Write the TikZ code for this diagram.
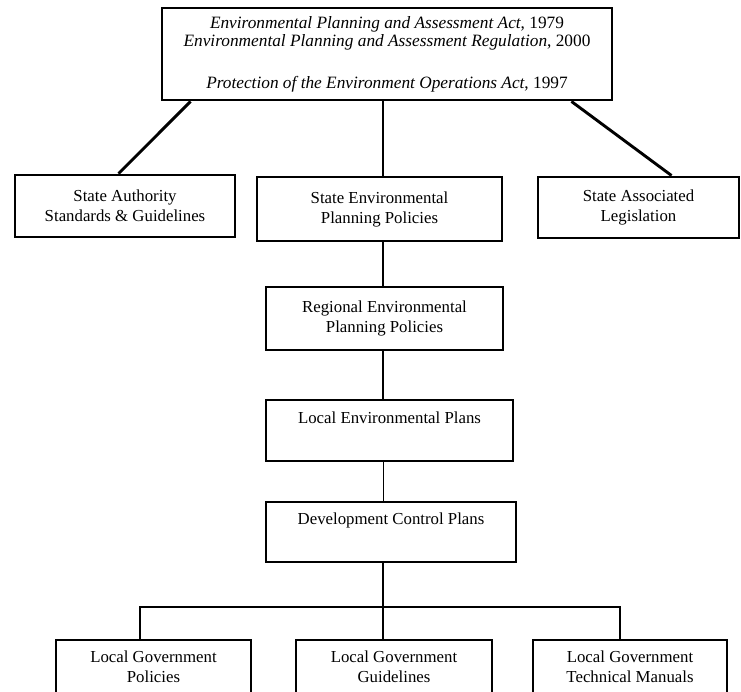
\documentclass[tikz,border=0pt]{standalone}
\usepackage{fontspec}
\setmainfont{Liberation Serif}

\begin{document}
\begin{tikzpicture}[x=1pt,y=-1pt,
    box/.style={draw, line width=2.9pt, align=center, inner sep=0pt,
      font=\fontsize{16.8}{20}\selectfont},
    link/.style={line width=2.9pt},
    thinlink/.style={line width=1pt}]
    \useasboundingbox (0,0) rectangle (741,691);
    \clip (0,0) rectangle (741,691);
    % acts at the top
    \node[box, minimum width=450, minimum height=92,
      font=\fontsize{17.3}{18}\selectfont] (acts) at (387,54)
      {\textit{Environmental Planning and Assessment Act}, 1979\\
       \textit{Environmental Planning and Assessment Regulation}, 2000\\[24pt]
       \textit{Protection of the Environment Operations Act}, 1997};
    % state level
    \node[box, minimum width=220, minimum height=62] (stauth) at (125,206)
      {State Authority\\Standards \& Guidelines};
    \node[box, minimum width=245, minimum height=64] (sepp) at (379.5,209)
      {State Environmental\\Planning Policies};
    \node[box, minimum width=201, minimum height=61] (stlegis) at (638.5,207.5)
      {State Associated\\Legislation};
    % regional and local plans
    \node[box, minimum width=237, minimum height=63] (regional) at (384.5,318.5)
      {Regional Environmental\\Planning Policies};
    \node[box, minimum width=247, minimum height=61] (lep) at (389.5,430.5)
      {Local Environmental Plans\\ \strut};
    \node[box, minimum width=250, minimum height=60] (dcp) at (391,532)
      {Development Control Plans\\ \strut};
    % local government
    \node[box, minimum width=195, minimum height=54] (lgpol) at (153.5,667)
      {Local Government\\Policies};
    \node[box, minimum width=196, minimum height=54] (lgguide) at (394,667)
      {Local Government\\Guidelines};
    \node[box, minimum width=194, minimum height=54] (lgman) at (630,667)
      {Local Government\\Technical Manuals};

    \coordinate (spine) at (383,0);
    \coordinate (barL) at (140,607);
    \coordinate (barR) at (620,607);

    \draw[link] ([xshift=30pt]acts.south west) -- ([xshift=105pt]stauth.north west);
    \draw[link] ([xshift=-42pt]acts.south east) -- ([xshift=135pt]stlegis.north west);
    \foreach \a/\b in {acts/sepp, sepp/regional, regional/lep}
        \draw[link] (\a.south -| spine) -- (\b.north -| spine);
    \draw[thinlink] (lep.south -| spine) -- (dcp.north -| spine);
    \draw[link] (dcp.south -| spine) -- (spine |- lgguide.north);
    \draw[link] (barL |- lgpol.north) -- (barL) -- (barR) -- (barR |- lgman.north);
\end{tikzpicture}
\end{document}
